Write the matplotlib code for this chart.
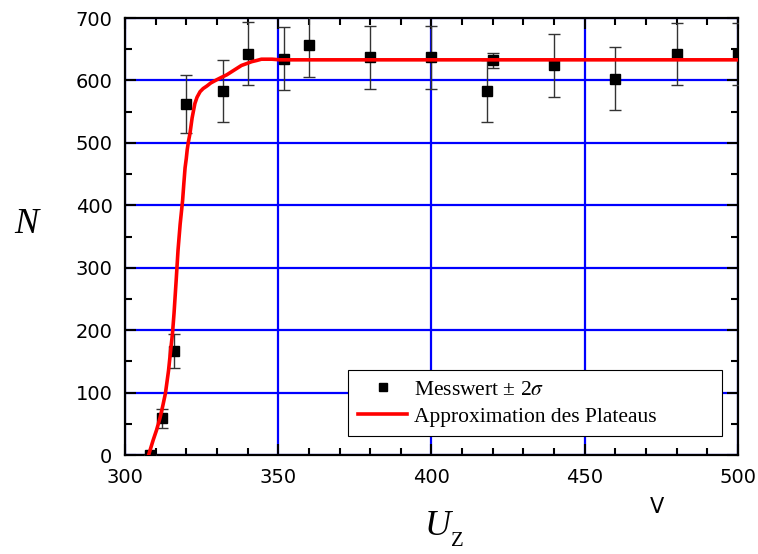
import numpy as np
import matplotlib
matplotlib.use('Agg')
import matplotlib.pyplot as plt
from matplotlib.ticker import MultipleLocator
from matplotlib.lines import Line2D

# measured values (U_Z in V, N counts, error = 2 sigma)
u_mess = [308, 312, 316, 320, 332, 340, 352, 360, 380, 400, 418, 420, 440, 460, 480, 500]
n_mess = [0, 59, 167, 562, 583, 643, 635, 656, 637, 637, 583, 632, 624, 603, 642, 642]
n_err = [0, 15, 27, 47, 50, 50, 50, 50, 50, 50, 50, 12, 50, 50, 50, 50]

# plateau approximation
u_fit = [307.7, 309.2, 310.3, 311.4, 312.3, 313.2, 314.2, 314.9, 315.5, 316.0, 316.7,
         317.3, 318.0, 318.8, 319.2, 319.6, 320.0, 320.3, 320.7, 321.2, 321.9, 322.8,
         323.5, 324.5, 325.5, 326.7, 328.0, 329.9, 331.5, 333.2, 334.8, 336.4, 338.0,
         339.7, 341.3, 343.0, 344.5, 346.2, 348.0, 350.6, 400, 450, 500]
n_fit = [0, 24, 40, 59, 78, 99, 135, 168, 195, 227, 280,
         328, 370, 408, 435, 460, 475, 489, 502, 515, 540, 563,
         573, 582, 587, 591, 596, 601, 605, 609, 614, 619, 624,
         627, 630, 632, 634, 634, 634, 633, 633, 633, 633]

fig = plt.figure(figsize=(7.58, 5.54), dpi=100)
ax = fig.add_axes([0.1649, 0.1787, 0.8087, 0.7888])

ax.set_xlim(300, 500)
ax.set_ylim(0, 700)
ax.xaxis.set_major_locator(MultipleLocator(50))
ax.xaxis.set_minor_locator(MultipleLocator(10))
ax.yaxis.set_major_locator(MultipleLocator(100))
ax.yaxis.set_minor_locator(MultipleLocator(50))

ax.grid(True, which='major', color='#0000ff', lw=1.6, zorder=0)
ax.set_axisbelow(True)

ax.errorbar(u_mess, n_mess, yerr=n_err, fmt='s', color='black', ms=6.5,
            ecolor='#333333', elinewidth=1, capsize=4, capthick=1, zorder=3)
ax.plot(u_fit, n_fit, color='#ff0000', lw=2.6, zorder=4)

for s in ax.spines.values():
    s.set_linewidth(1.6)
ax.tick_params(which='both', direction='in', top=True, right=True, width=1.5)
ax.tick_params(which='major', length=8, pad=9, labelsize=14)
ax.tick_params(which='minor', length=5)

plt.rcParams['mathtext.fontset'] = 'stix'
handles = [Line2D([], [], marker='s', ls='none', color='black', ms=6),
           Line2D([], [], color='#ff0000', lw=2.6)]
labels = ['Messwert \u00b1 2$\\sigma$', 'Approximation des Plateaus']
leg = ax.legend(handles, labels, loc='lower left', bbox_to_anchor=(0.364, 0.043, 0.61, 0.145),
                mode='expand', fancybox=False, edgecolor='black', framealpha=1,
                prop={'family': 'Liberation Serif', 'size': 15.5},
                handlelength=2.3, handletextpad=0.3, borderaxespad=0, labelspacing=0.3,
                borderpad=0.45)
leg.get_frame().set_linewidth(0.8)

fig.text(0.035, 0.594, 'N', family='Liberation Serif', style='italic', fontsize=26,
         ha='center', va='center')
fig.text(0.578, 0.05, 'U', family='Liberation Serif', style='italic', fontsize=26,
         ha='center', va='center')
fig.text(0.604, 0.022, 'Z', family='Liberation Serif', fontsize=15,
         ha='center', va='center')
fig.text(0.867, 0.085, 'V', family='DejaVu Sans', fontsize=15, ha='center', va='center')

fig.savefig('out.png', dpi=100)
